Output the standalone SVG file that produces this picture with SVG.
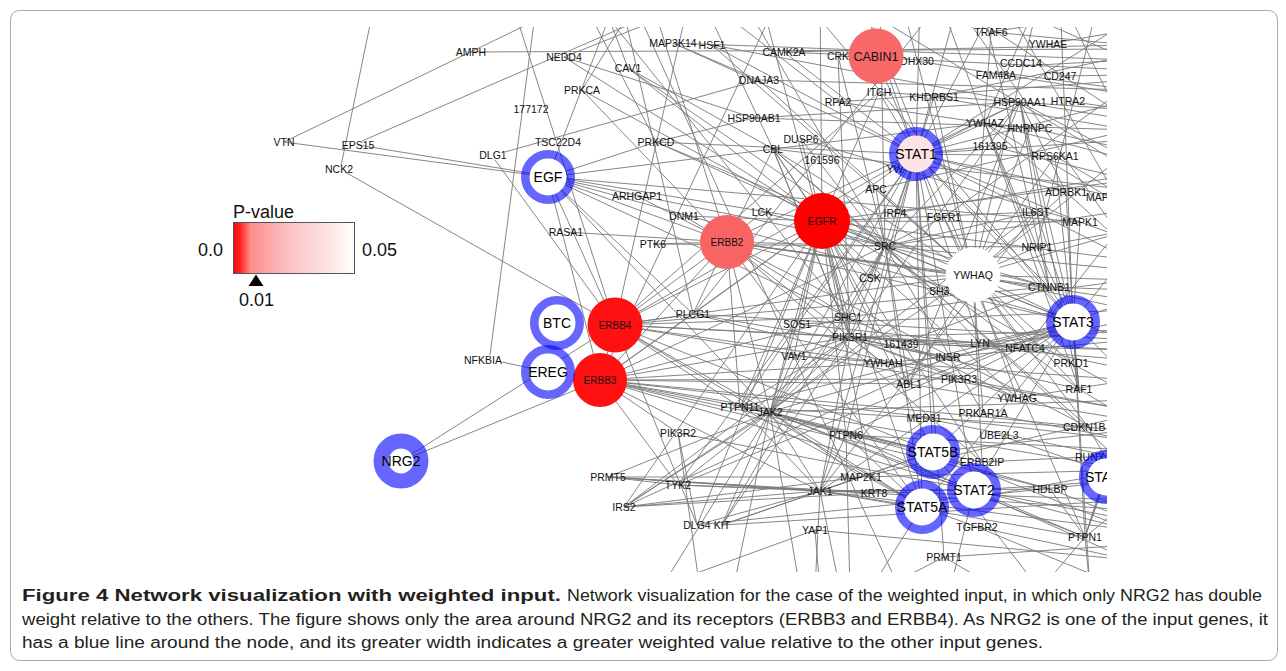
<svg xmlns="http://www.w3.org/2000/svg" width="1286" height="671" viewBox="0 0 1286 671">
<style>
.e{stroke:#787878;stroke-width:0.9;fill:none}
.l{font-family:"Liberation Sans",Arial,Helvetica,sans-serif;font-size:10.5px;fill:#111;text-anchor:middle}
.ls{font-family:"Liberation Sans",Arial,Helvetica,sans-serif;font-size:10.5px;fill:#111;text-anchor:start}
.in{fill:#fff}
.rg{fill:none;stroke:#0000ff;stroke-opacity:0.6;stroke-width:8.5}
.rl{font-family:"Liberation Sans",Arial,Helvetica,sans-serif;font-size:14px;fill:#000;text-anchor:middle}
.rd{font-family:"Liberation Sans",Arial,Helvetica,sans-serif;font-size:10px;fill:#111;text-anchor:middle}
.lg{font-family:"Liberation Sans",Arial,Helvetica,sans-serif;font-size:18px;fill:#111}
.cap{font-family:"Liberation Sans",Arial,Helvetica,sans-serif;font-size:16px;fill:#231f20}
</style>
<defs>
<clipPath id="clip"><rect x="180" y="27" width="927" height="545"/></clipPath>
<linearGradient id="pg" x1="0" y1="0" x2="1" y2="0">
<stop offset="0" stop-color="#ff0000"/>
<stop offset="0.06" stop-color="#ff2a2a"/>
<stop offset="0.14" stop-color="#fd8c8c"/>
<stop offset="0.45" stop-color="#fbc2c2"/>
<stop offset="0.8" stop-color="#fde6e6"/>
<stop offset="1" stop-color="#ffffff"/>
</linearGradient>
</defs>
<rect x="0" y="0" width="1286" height="671" fill="#fff"/>
<rect x="10.5" y="10.5" width="1267" height="650" rx="9" fill="none" stroke="#a8a8a8" stroke-width="1"/>
<g clip-path="url(#clip)">
<g id="edges">
<path class="e" d="M284 142L545 16M284 142L548 177M358 145L822 221M362 141L640 20M471 52L1130 49M341 166L372 15M345 172L615 325M505 152L759 80M495 160L615 325M490 355L535 15M502 362L548 372M515 12L615 325M401 461L615 325M401 461L600 380M548 177L727 242M548 177L600 380M548 177L615 325M548 177L885 246M548 177L773 149M548 177L610 15M548 177L848 317M548 177L693 314M548 177L1073 322M548 177L1080 222M548 177L656 142M548 177L770 412"/>
<path class="e" d="M727 242L600 380M727 242L615 325M727 242L885 246M727 242L1073 322M727 242L693 314M727 242L848 317M727 242L850 337M727 242L653 244M727 242L1020 102M727 242L773 149M727 242L982 462M727 242L582 90M727 242L770 412M727 242L762 212M727 242L973 275M727 242L740 407M727 242L1049 287M727 242L1130 300M727 242L684 216M727 242L566 232M727 242L637 196M727 242L922 507M727 242L1088 427"/>
<path class="e" d="M822 221L885 246M822 221L916 154M822 221L1073 322M822 221L922 507M822 221L933 452M822 221L848 317M822 221L850 337M822 221L773 149M822 221L693 314M822 221L770 412M822 221L628 68M822 221L582 90M822 221L684 216M822 221L600 380M822 221L615 325M822 221L794 356M822 221L797 324M822 221L846 435M822 221L740 407M822 221L1080 222M822 221L1049 287M822 221L909 384M822 221L1071 363M822 221L874 493M822 221L820 -5M822 221L564 57M822 221L879 92M822 221L697 525M822 221L1036 212M822 221L870 278M822 221L801 139M822 221L1130 180M822 221L1017 398M822 221L624 507M822 221L1130 260"/>
<path class="e" d="M615 325L600 380M615 325L922 507M615 325L933 452M615 325L848 317M615 325L850 337M615 325L693 314M615 325L879 92M615 325L770 412M615 325L697 525M615 325L1130 350M615 325L973 275M615 325L883 363M615 325L1049 287M615 325L740 407M615 325L916 154M615 325L1130 410M600 380L850 337M600 380L678 433M600 380L959 379M600 380L848 317M600 380L693 314M600 380L974 490M600 380L820 491M600 380L883 363M600 380L909 384M600 380L1088 427M600 380L1130 470M600 380L885 246M600 380L770 412M600 380L678 485M600 380L1130 440M600 380L982 462M600 380L1050 489"/>
<path class="e" d="M916 154L820 491M916 154L770 412M916 154L678 485M916 154L974 490M916 154L1073 322M916 154L885 246M916 154L895 213M916 154L876 56M916 154L920 -5M916 154L960 -5M916 154L1000 -5M916 154L1036 212M916 154L1020 102M916 154L656 142M916 154L1080 222M916 154L740 407M916 154L1085 537M916 154L1130 100M916 154L1130 200M916 154L784 52M916 154L712 45M916 154L673 43M916 154L879 92M916 154L934 97M916 154L990 146M916 154L1055 156M916 154L1130 140M916 154L846 435M916 154L1066 192M916 154L980 343M916 154L1130 20M916 154L860 -5M916 154L1049 287M916 154L944 557M916 154L933 452M916 154L922 507"/>
<path class="e" d="M1073 322L820 491M1073 322L770 412M1073 322L678 485M1073 322L885 246M1073 322L1036 212M1073 322L973 275M1073 322L1049 287M1073 322L1025 348M1073 322L1079 389M1073 322L1080 222M1073 322L846 435M1073 322L1085 537M1073 322L740 407M1073 322L909 384M1073 322L980 343M1073 322L1130 300M1073 322L1130 250M1073 322L1060 -5M1073 322L1020 102M1073 322L1037 247M1073 322L1130 380M1073 322L933 452M1073 322L922 507M1073 322L974 490M1073 322L1090 590M1073 322L1066 192M1073 322L1130 340"/>
<path class="e" d="M973 275L1079 389M973 275L773 149M973 275L909 384M973 275L1071 363M973 275L1130 230M973 275L934 97M973 275L900 -5M973 275L944 217M973 275L712 45M973 275L656 142M973 275L624 507M973 275L1088 427M973 275L982 462M973 275L991 32M973 275L1030 128M973 275L1130 280M973 275L1130 310M973 275L1025 348M973 275L1017 398M973 275L1066 192M973 275L759 80M973 275L1055 156M973 275L876 189M973 275L1130 150M973 275L1037 247M973 275L983 413M973 275L870 278"/>
<path class="e" d="M770 412L678 485M770 412L922 507M770 412L933 452M770 412L974 490M770 412L846 435M770 412L740 407M770 412L848 317M770 412L885 246M770 412L1085 537M770 412L608 477M770 412L624 507M770 412L1130 400M770 412L850 337M770 412L794 356M770 412L797 324M770 412L820 491M770 412L1036 212M770 412L733 590M770 412L660 590M770 412L800 590M770 412L1050 489M770 412L861 477M770 412L722 525"/>
<path class="e" d="M820 491L922 507M820 491L933 452M820 491L974 490M820 491L846 435M820 491L740 407M820 491L678 485M820 491L624 507M820 491L608 477M820 491L1036 212M820 491L1130 530M820 491L1085 537M820 491L850 337M820 491L874 493M820 491L861 477M820 491L697 525M820 491L722 525M820 491L815 590M820 491L840 590M820 491L1050 489"/>
<path class="e" d="M850 337L885 246M850 337L624 507M850 337L948 357M850 337L980 343M850 337L909 384M850 337L794 356M850 337L848 317M850 337L722 525M850 337L740 407M850 337L773 149M850 337L1130 330M850 337L959 379M850 337L1025 348M850 337L1079 389M850 337L1020 102M850 337L883 363M850 337L1130 360M850 337L1017 398"/>
<path class="e" d="M885 246L870 278M885 246L922 507M885 246L1049 287M885 246L628 68M885 246L653 244M885 246L909 384M885 246L773 149M885 246L848 317M885 246L722 525M885 246L656 142M885 246L1130 210M885 246L876 189M885 246L980 343M885 246L944 217M885 246L1037 247M885 246L1130 270M885 246L762 212M885 246L838 56M885 246L801 139M885 246L1020 102M885 246L1036 212M885 246L1079 389M885 246L983 413M885 246L1130 470M885 246L880 -5M885 246L740 -5"/>
<path class="e" d="M580 -5L656 142M620 -5L693 314M650 -5L727 242M690 -5L615 325M700 -5L773 149M760 -5L850 337M780 -5L600 380M800 -5L1073 322M840 -5L1130 170M860 -5L973 275M940 -5L1130 120M980 -5L1130 60M1040 -5L973 275M1080 -5L1130 40M600 -5L628 68M640 -5L582 90M700 -5L838 102M720 -5L564 57M590 -5L848 317M630 -5L794 356M1130 130L876 189M1130 55L934 97M1130 85L944 217M1000 -5L1130 220M1060 -5L1130 140M950 -5L1130 250M1130 175L895 213M1100 -5L1037 247M980 -5L1049 287M1130 215L1025 348"/>
<path class="e" d="M673 43L1130 60M673 43L759 80M712 45L1020 102M784 52L1130 45M784 52L876 56M759 80L1130 90M754 118L1020 102M754 118L1130 130M754 118L656 142M754 118L564 57M801 139L1080 222M773 149L982 462M773 149L1130 190M773 149L850 337M773 149L628 68M773 149L1088 427M838 102L1130 80M838 102L985 123M838 56L1130 70M838 56L850 337M879 92L1130 110M934 97L1130 130M917 61L1130 95M991 32L1130 45M991 32L1130 10M1048 44L1130 30M1020 66L1130 60M997 72L1130 90M1059 76L1130 75M1020 102L1130 120M1067 101L1130 110M985 123L1130 160M985 123L1030 128M985 123L1130 210M985 123L916 154M985 123L1049 287M985 123L1079 389M985 123L773 149M985 123L1037 247M985 123L1066 192M985 123L938 -5M985 123L1040 -5M1030 128L1130 150M990 146L1130 180M1055 156L1130 200M1055 156L1079 389M1066 192L1130 250M1080 222L1130 240M1036 212L1130 260M1037 247L1130 230M1049 287L1130 290M1049 287L1020 102M1020 102L1130 160M1020 102L1079 389M1020 102L909 384M1020 102L1066 192"/>
<path class="e" d="M980 343L1130 330M1025 348L1130 370M948 357L1130 320M948 357L624 507M959 379L1130 410M1071 363L1130 395M1079 389L1130 420M1017 398L1130 380M983 413L1130 440M924 418L1130 460M999 435L1130 480M1088 427L1130 500M982 462L1130 455M1050 489L1130 520M1090 457L1130 440M1106 477L1085 537M1085 537L1120 440M1085 537L1100 490M1085 537L1130 500M1085 537L1050 489M1085 537L974 490M1085 537L1090 590M1085 537L1040 590M977 527L1130 560M977 527L922 507M977 527L1130 590M944 557L1000 590M944 557L880 590M944 557L1130 545M874 493L1130 510M861 477L1130 470M861 477L1130 415M815 530L1130 560M815 530L820 590M815 530L650 590M697 525L1130 480M722 525L933 452M722 525L1130 500M678 485L1130 500M678 485L608 477M608 477L820 491M608 477L874 493M608 477L861 477M624 507L861 477M624 507L874 493M678 433L1130 520M678 433L700 590M678 433L697 525M846 435L1130 450M846 435L1130 560M846 435L933 452M846 435L922 507M846 435L850 590M740 407L1130 430M740 407L922 507M740 407L933 452M794 356L1130 380M794 356L900 590M797 324L1130 310M797 324L1025 348M848 317L1130 280M848 317L1017 398M883 363L1130 340M909 384L1130 420M901 344L1130 350M901 344L1049 287M693 314L1130 340M693 314L946 -5M693 314L959 379M693 314L948 357M933 452L1130 430M922 507L1130 470M922 507L870 590M974 490L1130 480M974 490L1130 530M974 490L950 590M933 452L1130 530M933 452L1040 590"/>
</g>
<g id="labels">
<g id="n-AMPH"><text class="l" x="471" y="56">AMPH</text></g>
<g id="n-VTN"><text class="l" x="284" y="146">VTN</text></g>
<g id="n-EPS15"><text class="l" x="358" y="149">EPS15</text></g>
<g id="n-NCK2"><text class="l" x="339" y="173">NCK2</text></g>
<g id="n-DLG1"><text class="l" x="493" y="159">DLG1</text></g>
<g id="n-177172"><text class="l" x="531" y="113">177172</text></g>
<g id="n-NEDD4"><text class="l" x="564" y="61">NEDD4</text></g>
<g id="n-CAV1"><text class="l" x="628" y="72">CAV1</text></g>
<g id="n-PRKCA"><text class="l" x="582" y="94">PRKCA</text></g>
<g id="n-TSC22D4"><text class="l" x="558" y="146">TSC22D4</text></g>
<g id="n-MAP3K14"><text class="l" x="673" y="47">MAP3K14</text></g>
<g id="n-HSF1"><text class="l" x="712" y="49">HSF1</text></g>
<g id="n-CAMK2A"><text class="l" x="784" y="56">CAMK2A</text></g>
<g id="n-DNAJA3"><text class="l" x="759" y="84">DNAJA3</text></g>
<g id="n-HSP90AB1"><text class="l" x="754" y="122">HSP90AB1</text></g>
<g id="n-PRKCD"><text class="l" x="656" y="146">PRKCD</text></g>
<g id="n-DUSP6"><text class="l" x="801" y="143">DUSP6</text></g>
<g id="n-CBL"><text class="l" x="773" y="153">CBL</text></g>
<g id="n-161596"><text class="l" x="822" y="164">161596</text></g>
<g id="n-RPA2"><text class="l" x="838" y="106">RPA2</text></g>
<g id="n-CRK"><text class="l" x="838" y="60">CRK</text></g>
<g id="n-DHX30"><text class="l" x="917" y="65">DHX30</text></g>
<g id="n-ITCH"><text class="l" x="879" y="96">ITCH</text></g>
<g id="n-KHDRBS1"><text class="l" x="934" y="101">KHDRBS1</text></g>
<g id="n-TRAF6"><text class="l" x="991" y="36">TRAF6</text></g>
<g id="n-YWHAE"><text class="l" x="1048" y="48">YWHAE</text></g>
<g id="n-CCDC14"><text class="l" x="1021" y="67">CCDC14</text></g>
<g id="n-FAM48A"><text class="l" x="996" y="79">FAM48A</text></g>
<g id="n-CD247"><text class="l" x="1060" y="80">CD247</text></g>
<g id="n-HSP90AA1"><text class="l" x="1020" y="106">HSP90AA1</text></g>
<g id="n-HTRA2"><text class="l" x="1068" y="105">HTRA2</text></g>
<g id="n-YWHAZ"><text class="l" x="985" y="127">YWHAZ</text></g>
<g id="n-HNRNPC"><text class="l" x="1030" y="132">HNRNPC</text></g>
<g id="n-161395"><text class="l" x="990" y="150">161395</text></g>
<g id="n-RPS6KA1"><text class="l" x="1055" y="160">RPS6KA1</text></g>
<g id="n-YW"><text class="l" x="895" y="173">YW</text></g>
<g id="n-ARHGAP1"><text class="l" x="637" y="200">ARHGAP1</text></g>
<g id="n-DNM1"><text class="l" x="684" y="220">DNM1</text></g>
<g id="n-LCK"><text class="l" x="762" y="216">LCK</text></g>
<g id="n-RASA1"><text class="l" x="566" y="236">RASA1</text></g>
<g id="n-PTK6"><text class="l" x="653" y="248">PTK6</text></g>
<g id="n-APC"><text class="l" x="876" y="193">APC</text></g>
<g id="n-IRF4"><text class="l" x="895" y="217">IRF4</text></g>
<g id="n-FGFR1"><text class="l" x="944" y="221">FGFR1</text></g>
<g id="n-IL6ST"><text class="l" x="1036" y="216">IL6ST</text></g>
<g id="n-ADRBK1"><text class="l" x="1066" y="196">ADRBK1</text></g>
<g id="n-MAP"><text class="ls" x="1086" y="201">MAP</text></g>
<g id="n-MAPK1"><text class="l" x="1080" y="226">MAPK1</text></g>
<g id="n-SRC"><text class="l" x="885" y="250">SRC</text></g>
<g id="n-NRIP1"><text class="l" x="1037" y="251">NRIP1</text></g>
<g id="n-CSK"><text class="l" x="870" y="282">CSK</text></g>
<g id="n-SH3"><text class="ls" x="929" y="295">SH3</text></g>
<g id="n-CTNNB1"><text class="l" x="1049" y="291">CTNNB1</text></g>
<g id="n-NFKBIA"><text class="l" x="483" y="364">NFKBIA</text></g>
<g id="n-PLCG1"><text class="l" x="693" y="318">PLCG1</text></g>
<g id="n-PIK3R2"><text class="l" x="678" y="437">PIK3R2</text></g>
<g id="n-SOS1"><text class="l" x="797" y="328">SOS1</text></g>
<g id="n-SHC1"><text class="l" x="848" y="321">SHC1</text></g>
<g id="n-PIK3R1"><text class="l" x="850" y="341">PIK3R1</text></g>
<g id="n-161439"><text class="l" x="901" y="348">161439</text></g>
<g id="n-VAV1"><text class="l" x="794" y="360">VAV1</text></g>
<g id="n-YWHAH"><text class="l" x="883" y="367">YWHAH</text></g>
<g id="n-ABL1"><text class="l" x="909" y="388">ABL1</text></g>
<g id="n-PTPN11"><text class="l" x="740" y="411">PTPN11</text></g>
<g id="n-JAK2"><text class="l" x="770" y="416">JAK2</text></g>
<g id="n-PTPN6"><text class="l" x="846" y="439">PTPN6</text></g>
<g id="n-LYN"><text class="l" x="980" y="347">LYN</text></g>
<g id="n-NFATC4"><text class="l" x="1025" y="352">NFATC4</text></g>
<g id="n-INSR"><text class="l" x="948" y="361">INSR</text></g>
<g id="n-PRKD1"><text class="l" x="1071" y="367">PRKD1</text></g>
<g id="n-PIK3R3"><text class="l" x="959" y="383">PIK3R3</text></g>
<g id="n-RAF1"><text class="l" x="1079" y="393">RAF1</text></g>
<g id="n-YWHAG"><text class="l" x="1017" y="402">YWHAG</text></g>
<g id="n-PRKAR1A"><text class="l" x="983" y="417">PRKAR1A</text></g>
<g id="n-MED31"><text class="l" x="924" y="422">MED31</text></g>
<g id="n-UBE2L3"><text class="l" x="999" y="439">UBE2L3</text></g>
<g id="n-CDKN1B"><text class="ls" x="1063" y="431">CDKN1B</text></g>
<g id="n-PRMT5"><text class="l" x="608" y="481">PRMT5</text></g>
<g id="n-IRS2"><text class="l" x="624" y="511">IRS2</text></g>
<g id="n-TYK2"><text class="l" x="678" y="489">TYK2</text></g>
<g id="n-DLG4"><text class="l" x="697" y="529">DLG4</text></g>
<g id="n-KIT"><text class="l" x="722" y="529">KIT</text></g>
<g id="n-JAK1"><text class="l" x="820" y="495">JAK1</text></g>
<g id="n-MAP2K1"><text class="l" x="861" y="481">MAP2K1</text></g>
<g id="n-KRT8"><text class="l" x="874" y="497">KRT8</text></g>
<g id="n-YAP1"><text class="l" x="815" y="534">YAP1</text></g>
<g id="n-ERBB2IP"><text class="l" x="982" y="466">ERBB2IP</text></g>
<g id="n-HDLBP"><text class="l" x="1050" y="493">HDLBP</text></g>
<g id="n-RUNX"><text class="ls" x="1075" y="461">RUNX</text></g>
<g id="n-TGFBR2"><text class="l" x="977" y="531">TGFBR2</text></g>
<g id="n-PTPN1"><text class="l" x="1085" y="541">PTPN1</text></g>
<g id="n-PRMT1"><text class="l" x="944" y="561">PRMT1</text></g>
</g>
<g id="n-CABIN1"><circle cx="876" cy="56" r="27.5" fill="#f86868"/><text class="rd" style="font-size:12.5px" x="876" y="61">CABIN1</text></g>
<g id="n-ERBB2"><circle cx="727" cy="242" r="27" fill="#f86363"/><text class="rd" x="727" y="246">ERBB2</text></g>
<g id="n-EGFR"><circle cx="822" cy="221" r="28" fill="#ff0000"/><text class="rd" style="font-size:10.5px" x="822" y="225">EGFR</text></g>
<g id="n-YWHAQ"><circle cx="973" cy="275" r="27.5" fill="#ffffff"/><text class="rd" style="font-size:10.5px" x="973" y="279">YWHAQ</text></g>
<g id="n-ERBB4"><circle cx="615" cy="325" r="27.5" fill="#ff1111"/><text class="rd" x="615" y="329">ERBB4</text></g>
<g id="n-ERBB3"><circle cx="600" cy="380" r="27" fill="#ff1111"/><text class="rd" x="600" y="384">ERBB3</text></g>
<g id="n-EGF"><circle class="in" cx="548" cy="177" r="18.5"/><circle class="rg" cx="548" cy="177" r="22.75"/><text class="rl" x="548" y="182">EGF</text></g>
<g id="n-BTC"><circle class="in" cx="557" cy="323" r="18.5"/><circle class="rg" cx="557" cy="323" r="22.75"/><text class="rl" x="557" y="328">BTC</text></g>
<g id="n-EREG"><circle class="in" cx="548" cy="372" r="18.5"/><circle class="rg" cx="548" cy="372" r="22.75"/><text class="rl" x="548" y="377">EREG</text></g>
<g id="n-STAT1"><circle cx="916" cy="154" r="18.5" fill="#fde3e3"/><circle class="rg" cx="916" cy="154" r="22.75"/><text class="rl" x="916" y="159">STAT1</text></g>
<g id="n-STAT3"><circle class="in" cx="1073" cy="322" r="18.5"/><circle class="rg" cx="1073" cy="322" r="22.75"/><text class="rl" x="1073" y="327">STAT3</text></g>
<g id="n-STAT5B"><circle class="in" cx="933" cy="452" r="18.5"/><circle class="rg" cx="933" cy="452" r="22.75"/><text class="rl" x="933" y="457">STAT5B</text></g>
<g id="n-STAT2"><circle class="in" cx="974" cy="490" r="18.5"/><circle class="rg" cx="974" cy="490" r="22.75"/><text class="rl" x="974" y="495">STAT2</text></g>
<g id="n-STAT5A"><circle class="in" cx="922" cy="507" r="18.5"/><circle class="rg" cx="922" cy="507" r="22.75"/><text class="rl" x="922" y="512">STAT5A</text></g>
<g id="n-STA"><circle class="in" cx="1106" cy="477" r="18.5"/><circle class="rg" cx="1106" cy="477" r="22.75"/><text class="rl" x="1085" y="482" style="text-anchor:start">STA</text></g>
<g id="n-NRG2"><circle class="in" cx="401" cy="461" r="12.5"/><circle cx="401" cy="461" r="20" fill="none" stroke="#0000ff" stroke-opacity="0.6" stroke-width="15"/><text class="rl" x="401" y="466">NRG2</text></g>
</g>
<g id="legend">
<text class="lg" x="233" y="217.5">P-value</text>
<rect x="233.5" y="222.5" width="121" height="51" fill="url(#pg)" stroke="#555" stroke-width="1"/>
<text class="lg" x="198" y="255.5">0.0</text>
<text class="lg" x="362" y="255.5">0.05</text>
<polygon points="256,274.5 248.5,286 263.5,286" fill="#000"/>
<text class="lg" x="239" y="306">0.01</text>
</g>
<g id="caption">
<text class="cap" x="22" y="601" font-weight="bold" textLength="539" lengthAdjust="spacingAndGlyphs">Figure 4 Network visualization with weighted input.</text>
<text class="cap" x="567" y="601" textLength="695" lengthAdjust="spacingAndGlyphs">Network visualization for the case of the weighted input, in which only NRG2 has double</text>
<text class="cap" x="22" y="625" textLength="1246" lengthAdjust="spacingAndGlyphs">weight relative to the others. The figure shows only the area around NRG2 and its receptors (ERBB3 and ERBB4). As NRG2 is one of the input genes, it</text>
<text class="cap" x="22" y="648" textLength="1021" lengthAdjust="spacingAndGlyphs">has a blue line around the node, and its greater width indicates a greater weighted value relative to the other input genes.</text>
</g>
</svg>
